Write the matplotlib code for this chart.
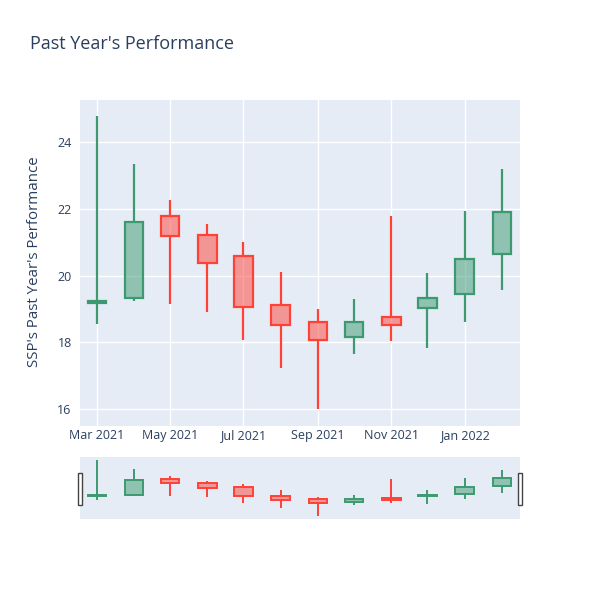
import pandas as pd
import matplotlib
matplotlib.use('Agg')
import matplotlib.pyplot as plt
import matplotlib.dates as mdates
from matplotlib.colors import to_rgba
from matplotlib.patches import Rectangle

plt.rcParams['font.family'] = ['Open Sans', 'DejaVu Sans']

# monthly candles
dates = pd.date_range('2021-03-01', '2022-02-01', freq='MS')
opens = [19.17, 19.32, 21.79, 21.22, 20.60, 19.12, 18.61, 18.17, 18.76, 19.04, 19.44, 20.64]
highs = [24.79, 23.35, 22.28, 21.54, 21.00, 20.11, 19.00, 19.30, 21.78, 20.07, 21.94, 23.20]
lows = [18.55, 19.25, 19.16, 18.90, 18.07, 17.23, 16.00, 17.66, 18.03, 17.84, 18.62, 19.56]
closes = [19.25, 21.61, 21.20, 20.38, 19.07, 18.53, 18.08, 18.60, 18.51, 19.34, 20.49, 21.90]

title = "Past Year's Performance"
ylabel = "SSP's Past Year's Performance"

UP = '#3D9970'
DOWN = '#FF4136'
BG = '#E5ECF6'
TXT = '#2a3f5f'

x0 = pd.Timestamp('2021-02-15')
x1 = pd.Timestamp('2022-02-16')
ylo, yhi = 15.49, 25.27


def draw_candles(ax, lw, width):
    for d, o, h, l, c in zip(dates, opens, highs, lows, closes):
        col = UP if c >= o else DOWN
        lo_b, hi_b = min(o, c), max(o, c)
        ax.vlines(d, l, lo_b, color=col, lw=lw, zorder=2)
        ax.vlines(d, hi_b, h, color=col, lw=lw, zorder=2)
        ax.bar(d, hi_b - lo_b, bottom=lo_b, width=width,
               facecolor=to_rgba(col, 0.5), edgecolor=col, lw=lw, zorder=3)


fig = plt.figure(figsize=(6, 6), dpi=100)

ax = fig.add_axes([80 / 600, 1 - 426 / 600, 440 / 600, 326 / 600])
ax.set_facecolor(BG)
draw_candles(ax, 1.6, 15.5)
ax.set_xlim(x0, x1)
ax.set_ylim(ylo, yhi)
ax.set_yticks([16, 18, 20, 22, 24])
ax.xaxis.set_major_locator(mdates.MonthLocator(bymonth=[1, 3, 5, 7, 9, 11]))
ax.xaxis.set_major_formatter(mdates.DateFormatter('%b %Y'))
ax.grid(True, color='white', lw=1)
ax.set_axisbelow(True)
for s in ax.spines.values():
    s.set_visible(False)
ax.tick_params(length=0, colors=TXT, labelsize=9, pad=6)
ax.tick_params(axis='x', pad=2.5)

fig.text(30 / 600, 1 - 44 / 600, title, fontsize=13, color=TXT, va='center')
fig.text(35 / 600, 1 - 262 / 600, ylabel, fontsize=10.8, color=TXT,
         rotation=90, ha='center', va='center')

# range slider
ax2 = fig.add_axes([80 / 600, 1 - 519 / 600, 440 / 600, 62 / 600])
ax2.set_facecolor(BG)
draw_candles(ax2, 1.4, 15.5)
ax2.set_xlim(x0, x1)
ax2.set_ylim(ylo, yhi)
ax2.set_xticks([])
ax2.set_yticks([])
for s in ax2.spines.values():
    s.set_visible(False)

for hx in (77.5 / 600, 517.5 / 600):
    fig.patches.append(Rectangle((hx, 1 - 505 / 600), 4 / 600, 32 / 600,
                                 transform=fig.transFigure, facecolor='white',
                                 edgecolor='#444444', lw=1))

fig.savefig('out.png', dpi=100)
